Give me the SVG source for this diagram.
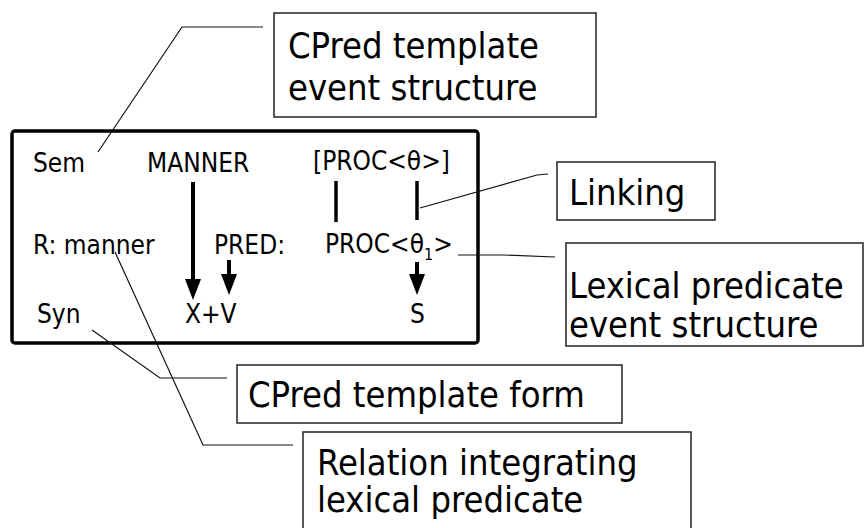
<svg xmlns="http://www.w3.org/2000/svg" width="866" height="528" viewBox="0 0 866 528">
<style>
text{font-family:"DejaVu Sans Condensed","DejaVu Sans",sans-serif;fill:#000}
.in{font-size:26px}
.note{font-size:36px}
.box{fill:#fff;stroke:#222;stroke-width:1.5}
.main{fill:#fff;stroke:#000;stroke-width:3.5}
.lead{fill:none;stroke:#111;stroke-width:1.2}
.arr{stroke:#000;stroke-width:4;fill:none}
.bar{stroke:#000;stroke-width:3.5}
</style>
<defs>
<marker id="ah" markerUnits="userSpaceOnUse" markerWidth="21" markerHeight="18" refX="0" refY="9" orient="auto" viewBox="0 0 21 18"><path d="M0,1 L21,9 L0,17 Z" fill="#000"/></marker>
</defs>
<g id="frame">
<rect class="main" x="12" y="131" width="466" height="212" rx="3"/>
<text class="in" x="33" y="172">Sem</text>
<text class="in" x="147" y="172">MANNER</text>
<text class="in" x="313" y="170">[PROC&lt;θ&gt;]</text>
<text class="in" x="33" y="254">R: manner</text>
<text class="in" x="214" y="254">PRED:</text>
<text class="in" x="325" y="253">PROC&lt;θ<tspan font-size="16" dy="7">1</tspan><tspan dy="-7">&gt;</tspan></text>
<text class="in" x="37" y="323">Syn</text>
<text class="in" x="185" y="323">X+V</text>
<text class="in" x="410" y="323">S</text>
</g>
<g id="connectors">
<line class="arr" x1="193" y1="182" x2="193" y2="279" marker-end="url(#ah)"/>
<line class="arr" x1="229" y1="260" x2="229" y2="274" marker-end="url(#ah)"/>
<line class="arr" x1="417" y1="262" x2="417" y2="274" marker-end="url(#ah)"/>
<line class="bar" x1="336" y1="181" x2="336" y2="222"/>
<line class="bar" x1="417" y1="181" x2="417" y2="220"/>
<polyline class="lead" points="98,152 182,27 263,27"/>
<polyline class="lead" points="420,208 537,175 548,174"/>
<polyline class="lead" points="458,255 503,255 555,257"/>
<polyline class="lead" points="92,330 160,378 227,378"/>
<polyline class="lead" points="115,252 203,445 293,445"/>
</g>
<g id="cpred-event">
<rect class="box" x="274" y="13" width="322" height="104"/>
<text class="note" x="288" y="58">CPred template</text>
<text class="note" x="288" y="100">event structure</text>
</g>
<g id="linking">
<rect class="box" x="557" y="162" width="158" height="58"/>
<text class="note" x="569" y="205">Linking</text>
</g>
<g id="lexical-event">
<rect class="box" x="566" y="243" width="297" height="103"/>
<text class="note" x="569" y="298">Lexical predicate</text>
<text class="note" x="569" y="337">event structure</text>
</g>
<g id="cpred-form">
<rect class="box" x="237" y="365" width="385" height="58"/>
<text class="note" x="248" y="407">CPred template form</text>
</g>
<g id="relation">
<rect class="box" x="303" y="432" width="388" height="100"/>
<text class="note" x="317" y="475">Relation integrating</text>
<text class="note" x="317" y="512">lexical predicate</text>
</g>
</svg>
